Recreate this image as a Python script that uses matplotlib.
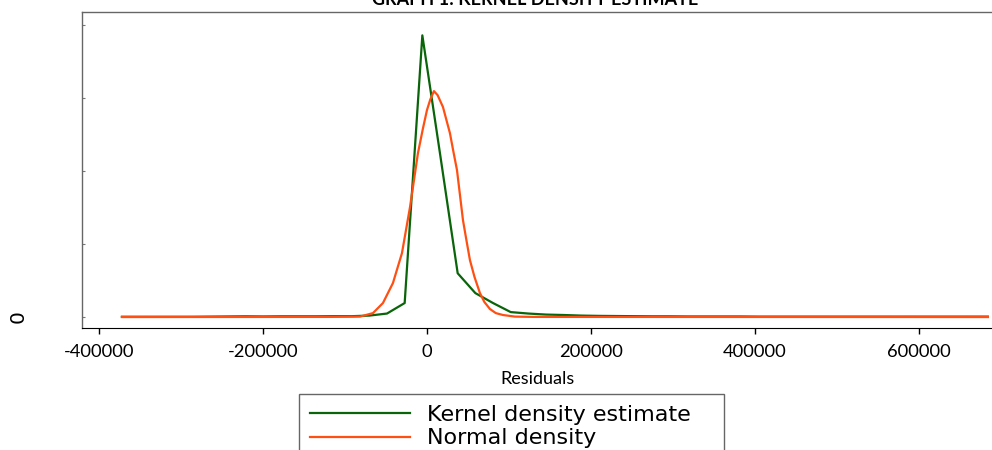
import matplotlib
matplotlib.use('Agg')
import matplotlib.pyplot as plt
from matplotlib.lines import Line2D

# residual grid used by the kernel density estimate (50 points)
kde_x = [-372000, -350450, -328900, -307350, -285800, -264250, -242700, -221150,
         -199600, -178050, -156500, -134950, -113400, -91850, -70300, -48750,
         -27200, -5650, 15900, 37450, 59000, 80550, 102100, 123650, 145200,
         166750, 188300, 209850, 231400, 252950, 274500, 296050, 317600, 339150,
         360700, 382250, 403800, 425350, 446900, 468450, 490000, 511550, 533100,
         554650, 576200, 597750, 619300, 640850, 662400, 683950]
# density values, in units of 1e-6
kde_y = [0.02, 0.02, 0.02, 0.02, 0.02, 0.03, 0.04, 0.05, 0.04, 0.05, 0.05, 0.05,
         0.06, 0.06, 0.10, 0.24, 0.96, 19.3, 11.2, 3.0, 1.64, 0.96, 0.34, 0.24,
         0.17, 0.14, 0.10, 0.08, 0.07, 0.06, 0.05, 0.05, 0.04, 0.04, 0.04, 0.04,
         0.03, 0.03, 0.03, 0.03, 0.03, 0.03, 0.03, 0.03, 0.03, 0.03, 0.03, 0.03,
         0.03, 0.03]

# normal density overlay
norm_x = [-372000, -120000, -81700, -65900, -53700, -41500, -30500, -20700,
          -15800, -11000, -5000, 0, 4000, 8500, 13000, 19500, 28000, 32000,
          36600, 43900, 48000, 52400, 58000, 64600, 70000, 76800, 84000, 92700,
          107300, 130000, 684000]
norm_y = [0.0, 0.01, 0.03, 0.27, 0.96, 2.33, 4.38, 7.53, 9.4, 11.23, 12.9,
          14.18, 14.9, 15.48, 15.2, 14.39, 12.6, 11.4, 10.07, 6.64, 5.3, 3.9,
          2.74, 1.64, 1.03, 0.55, 0.27, 0.14, 0.03, 0.01, 0.0]

x_ticks = [-400000, -200000, 0, 200000, 400000, 600000]
y_ticks = [0, 5, 10, 15, 20]
y_labels = ['0', '', '', '', '']

green = '#0a640a'
orange = '#ff5014'

fig = plt.figure(figsize=(9.92, 4.5), dpi=100)
ax = fig.add_axes([82/992, 1-328/450, 912/992, 316/450])

ax.plot(kde_x, kde_y, color=green, lw=1.6)
ax.plot(norm_x, norm_y, color=orange, lw=1.6)

ax.set_xlim(-420700, 691500)
ax.set_ylim(-0.75, 20.9)

ax.set_xticks(x_ticks)
ax.set_xticklabels([str(t) for t in x_ticks], fontname='Lato', fontsize=13.2)
ax.tick_params(axis='x', direction='out', length=4.3, width=1, color='black', pad=7.5)

ax.set_yticks(y_ticks)
ax.set_yticklabels(y_labels, rotation=90, va='center', fontname='DejaVu Sans', fontsize=14.5)
ax.tick_params(axis='y', direction='in', length=2, width=0.8, color='#777777', pad=39)

for s in ['left', 'top']:
    ax.spines[s].set_color('#666666')
    ax.spines[s].set_linewidth(1)
ax.spines['bottom'].set_color('black')
ax.spines['right'].set_visible(False)

ax.set_xlabel('Residuals', fontname='Lato', fontsize=13, labelpad=8)

# title sits partly above the top edge, as in the source image
fig.text(535/992, 1-5/450, 'GRAPH 1: KERNEL DENSITY ESTIMATE', ha='center', va='baseline',
         fontname='Lato', fontweight='bold', fontsize=13)

handles = [Line2D([], [], color=green, lw=1.6), Line2D([], [], color=orange, lw=1.6)]
leg = fig.legend(handles, ['Kernel density estimate', 'Normal density'],
                 loc='upper left', bbox_to_anchor=(299/992, 0, 425/992, 1-394/450),
                 mode='expand', borderaxespad=0, fancybox=False, framealpha=1,
                 edgecolor='#666666', prop={'family': 'DejaVu Sans', 'size': 16},
                 handlelength=4.5, handletextpad=0.75, borderpad=0.5, labelspacing=0.15)
leg.get_frame().set_linewidth(1)

fig.savefig('out.png', dpi=100)
